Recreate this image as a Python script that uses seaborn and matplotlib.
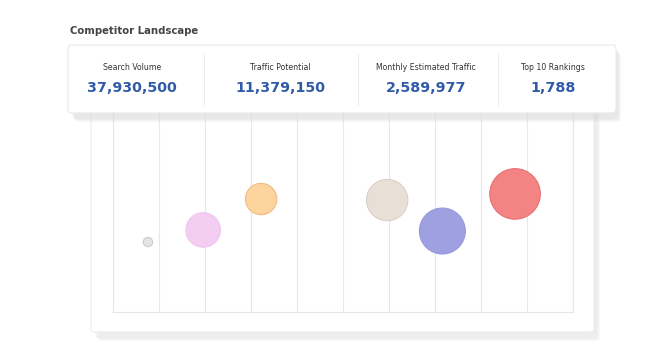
import matplotlib
matplotlib.use("Agg")
import matplotlib.pyplot as plt
import seaborn as sns
import pandas as pd
from matplotlib.patches import FancyBboxPatch

# ---------------- data ----------------
competitors = ["Competitor A", "Competitor B", "Competitor C",
               "Competitor D", "Competitor E", "Competitor F"]
x_values = [7.6, 19.6, 32.2, 59.6, 71.6, 87.4]
y_values = [33.0, 38.7, 53.3, 52.8, 38.2, 55.7]
bubble_sizes = [22, 299, 246, 428, 529, 640]
fill_colors = ["#e4e4e4", "#f4cdf3", "#fdd49d", "#e8dfd7", "#9fa0e1", "#f48383"]
edge_colors = ["#cdcdcd", "#f0c4ef", "#efbc84", "#dcd0c4", "#9899dc", "#e57272"]

kpi_labels = ["Search Volume", "Traffic Potential", "Monthly Estimated Traffic", "Top 10 Rankings"]
kpi_values = ["37,930,500", "11,379,150", "2,589,977", "1,788"]
title = "Competitor Landscape"

df = pd.DataFrame({"competitor": competitors, "x": x_values, "y": y_values, "size": bubble_sizes})

# ---------------- figure ----------------
W, H = 666, 358
sns.set_style("white")
plt.rcParams["font.family"] = ["DejaVu Sans"]
fig = plt.figure(figsize=(W / 100, H / 100), dpi=100)
fig.patch.set_facecolor("white")


def fx(px):
    return px / W


def fy(py):
    return 1 - py / H


def box(x0, y0, x1, y1, z, fc, ec="none", lw=0.0, r=4, alpha=1.0):
    p = FancyBboxPatch((fx(x0), fy(y1)), fx(x1) - fx(x0), fy(y0) - fy(y1),
                       boxstyle=f"round,pad=0,rounding_size={r / W}",
                       transform=fig.transFigure, facecolor=fc, edgecolor=ec,
                       linewidth=lw, zorder=z, alpha=alpha, mutation_aspect=W / H)
    fig.patches.append(p)
    return p


# chart panel shadow + panel (behind axes)
for i in range(4):
    box(91 + 4 + i, 90 + 4 + i, 594 + 3 + i, 332 + 6 + i, -3, "#e0e0e0", alpha=0.18, r=5)
box(91, 90, 594, 332, -2, "white", ec="#ececec", lw=0.8, r=4)

# axes
ax = fig.add_axes([fx(113), fy(312), fx(573) - fx(113), fy(100) - fy(312)])
ax.set_facecolor("none")
ax.set_xlim(0, 100)
ax.set_ylim(0, 100)
ax.set_xticks(range(0, 101, 10))
ax.set_yticks([])
ax.grid(axis="x", color="#e8e8e8", linewidth=0.8)
ax.tick_params(axis="x", length=0, labelbottom=False)
ax.spines["top"].set_visible(False)
for s in ["bottom", "left", "right"]:
    ax.spines[s].set_color("#e6e6e6")
    ax.spines[s].set_linewidth(0.8)
ax.set_axisbelow(True)

palette = dict(zip(competitors, fill_colors))
sns.scatterplot(data=df, x="x", y="y", hue="competitor", size="size",
                palette=palette, sizes=(0, 1325), size_norm=(0, 640),
                edgecolor=edge_colors, linewidth=0.8, alpha=1.0,
                legend=False, ax=ax, zorder=3)
ax.set_xlabel("")
ax.set_ylabel("")

# KPI card shadow + card
for i in range(4):
    box(68 + 4 + i, 45 + 4 + i, 616 + 2 + i, 113 + 6 + i, 1, "#d8d8d8", alpha=0.18, r=5)
box(68, 45, 616, 113, 2, "white", ec="#e8e8e8", lw=0.8, r=4)

# dividers
for dx in [204, 358, 498]:
    fig.add_artist(plt.Line2D([fx(dx), fx(dx)], [fy(54), fy(105)], transform=fig.transFigure,
                              color="#ededed", linewidth=0.8, zorder=3))

centers = [132, 280, 426, 553]
for cx, lab, val in zip(centers, kpi_labels, kpi_values):
    fig.text(fx(cx), fy(67), lab, ha="center", va="center", fontsize=5.6, color="#333333", zorder=4)
    fig.text(fx(cx), fy(88.5), val, ha="center", va="center", fontsize=10.3, fontweight="bold",
             color="#2f5ba8", zorder=4)

fig.text(fx(70), fy(30.5), title, ha="left", va="center", fontsize=7.3, fontweight="bold",
         color="#444444", zorder=4)

fig.savefig("out.png", dpi=100)
